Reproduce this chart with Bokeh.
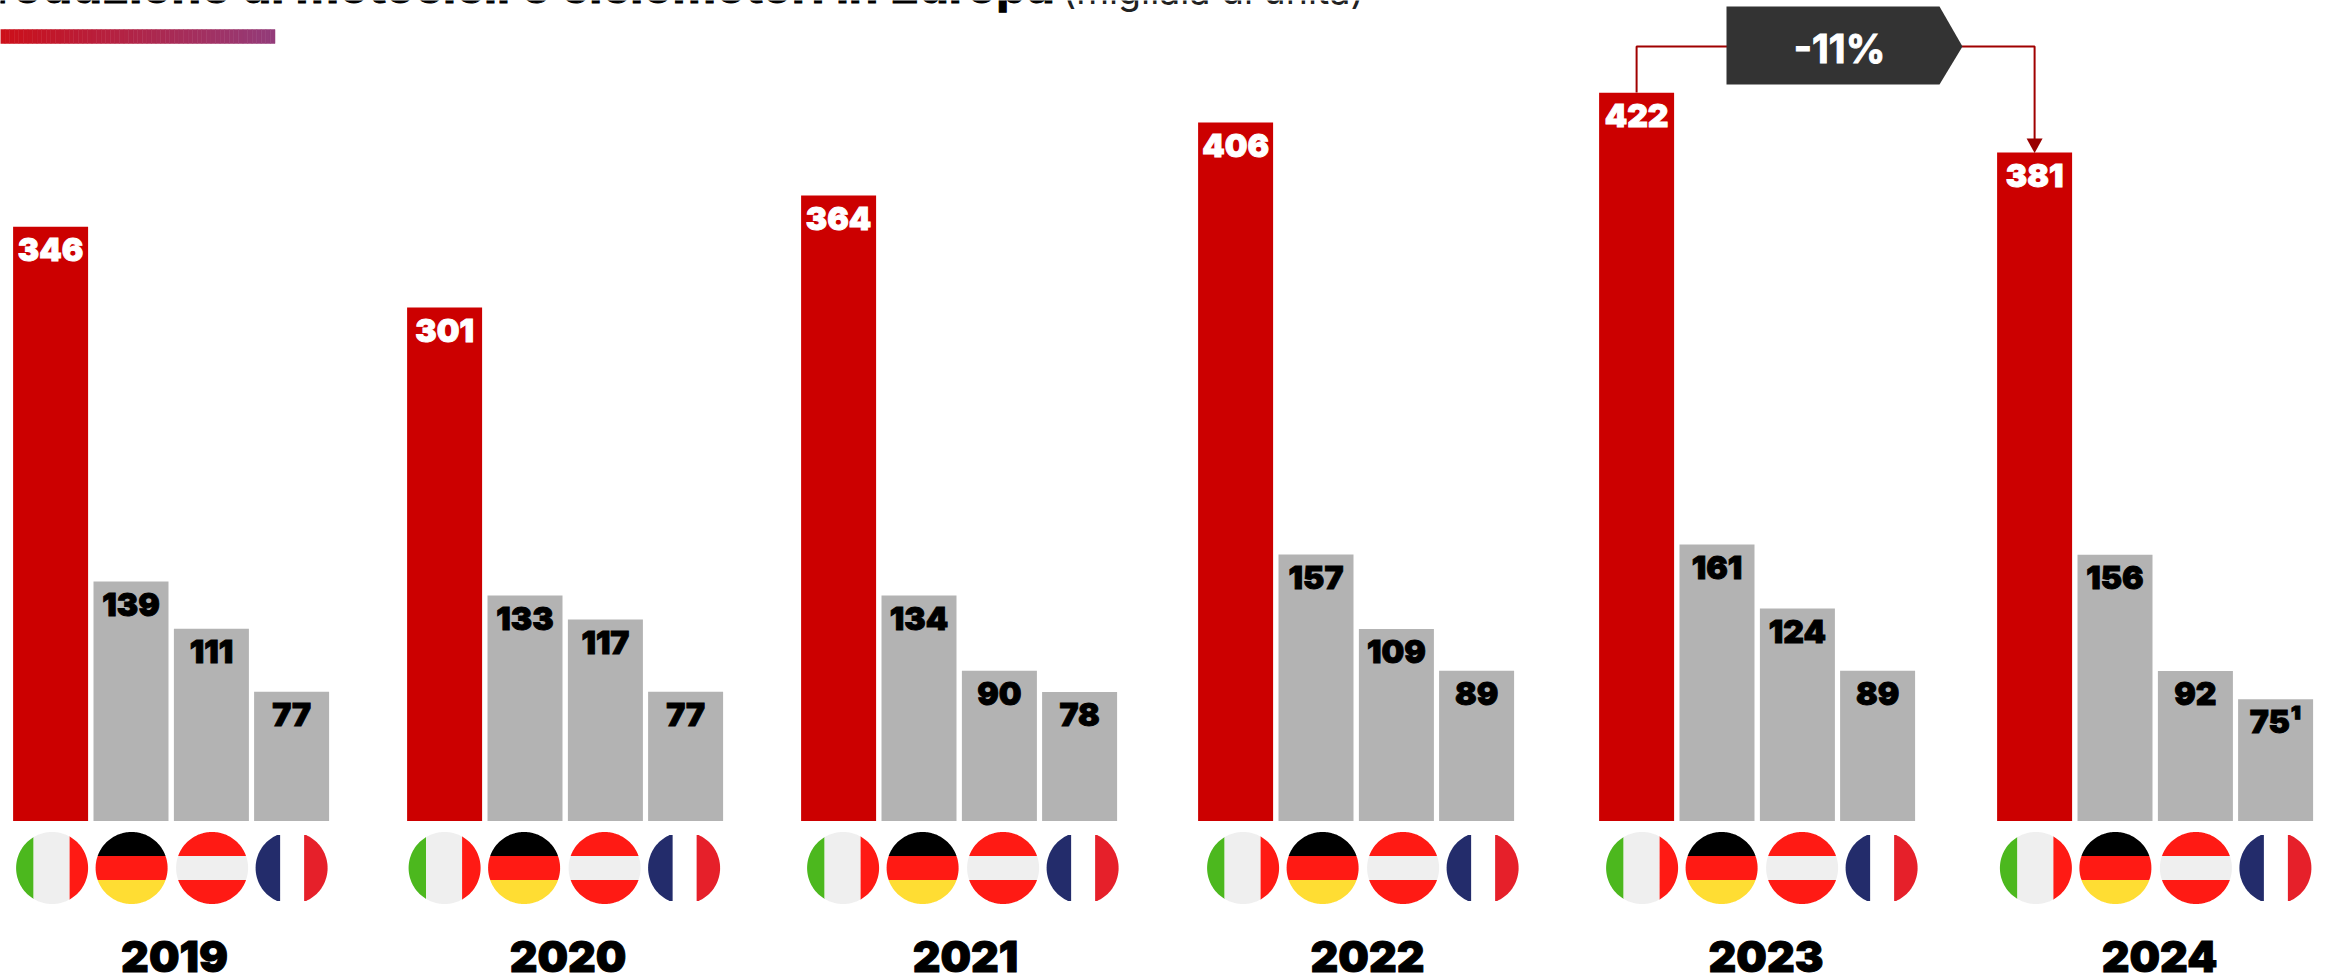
import numpy as np
from bokeh.plotting import figure
from bokeh.embed import file_html
from bokeh.resources import INLINE
from bokeh.core.properties import value
from bokeh.models import Range1d

years = ["2019", "2020", "2021", "2022", "2023", "2024"]
countries = ["Italia", "Germania", "Austria", "Francia"]
value_labels = [
    ["346", "139", "111", "77"],
    ["301", "133", "117", "77"],
    ["364", "134", "90", "78"],
    ["406", "157", "109", "89"],
    ["422", "161", "124", "89"],
    ["381", "156", "92", "75\u00b9"],
]
bar_heights = [
    [344.3, 138.8, 111.4, 74.9],
    [297.5, 130.6, 116.7, 74.9],
    [362.4, 130.6, 87.0, 74.8],
    [404.7, 154.4, 111.2, 87.0],
    [422.0, 160.2, 123.1, 87.0],
    [387.3, 154.2, 86.9, 70.6],
]
title_bold = "Produzione di motocicli e ciclomotori in Europa"
title_light = "(migliaia di unit\u00e0)"
change_label = "-11%"

W, H = 2325, 977
BASE = 820.5
K = 1.726
FONT_BLACK = value("Inter Black")
FONT = value("Inter")
SHIFT = 0.38  # text sits this share of its size below the given baseline

group_x = [12.6, 406.6, 800.6, 1197.6, 1598.6, 1996.6]
bar_off = [0, 80.4, 160.8, 241]
bar_w = 75
flag_x = [51.6, 444.1, 842.6, 1242.6, 1641.6, 2035.4]
flag_off = [0, 79.5, 160, 239.5]
year_x = [174, 567.5, 965, 1367, 1765.5, 2159]
R = 36
CY = 867.5

p = figure(width=W, height=H, output_backend="svg", toolbar_location=None,
           x_range=Range1d(0, W), y_range=Range1d((BASE - H) / K, BASE / K),
           min_border=0, outline_line_color=None, x_axis_type=None, y_axis_type=None)
p.grid.visible = False
p.extra_y_ranges = {"px": Range1d(H, 0)}

# gradient rule
n = 60
edges = np.linspace(0, 274.5, n + 1)
c0, c1 = np.array([204, 16, 26]), np.array([148, 60, 122])
cols = ["#%02x%02x%02x" % tuple(int(v) for v in c0 + (c1 - c0) * i / (n - 1)) for i in range(n)]
p.quad(left=edges[:-1], right=edges[1:], top=29, bottom=43, fill_color=cols, line_color=cols, line_width=0.5, y_range_name="px")

# title (cut by the page edge as in the reference)
p.text([-37], [4 - SHIFT * 47.8], [title_bold], text_font=FONT, text_font_style="bold", text_font_size="47.8px",
       text_color="#000000", text_outline_color="#000000", text_baseline="alphabetic", y_range_name="px")
p.text([1062], [4 - SHIFT * 37.5], [title_light], text_font=FONT, text_font_size="37.5px", text_color="#222222",
       text_baseline="alphabetic", y_range_name="px")

# bars
xs, tops, colors, lx, ly, lt, lc = [], [], [], [], [], [], []
for g, gx in enumerate(group_x):
    for i, off in enumerate(bar_off):
        cx = gx + off + bar_w / 2
        h = bar_heights[g][i]
        xs.append(cx); tops.append(h)
        colors.append("#cc0000" if i == 0 else "#b3b3b3")
        lx.append(cx); ly.append(BASE - h * K + 35 - SHIFT * 32)
        lt.append(value_labels[g][i]); lc.append("#ffffff" if i == 0 else "#000000")
p.vbar(x=xs, top=tops, bottom=0, width=bar_w, fill_color=colors, line_color=None)
p.text(lx, ly, lt, text_color=lc, text_outline_color=lc, text_font=FONT_BLACK, text_font_size="32px",
       text_align="center", text_baseline="alphabetic", y_range_name="px")


def stripe(cx, cy, x0=-R, x1=R, y0=-R, y1=R, r=R):
    """Polygon of a disc clipped to a box, in page pixels."""
    t = np.linspace(0, 2 * np.pi, 181)
    px, py = cx + r * np.cos(t), cy + r * np.sin(t)
    px = np.clip(px, cx + x0, cx + x1)
    py = np.clip(py, cy + y0, cy + y1)
    return px, py


FX, FY, FC = [], [], []
def add(poly, col):
    FX.append(list(poly[0])); FY.append(list(poly[1])); FC.append(col)

for fx in flag_x:
    c = fx + flag_off[0]
    add(stripe(c, CY, -R, -18.5), "#4cb81e")
    add(stripe(c, CY, -18.5, 17.5), "#efefef")
    add(stripe(c, CY, 17.5, R), "#ff1a14")
    c = fx + flag_off[1]
    add(stripe(c, CY, y0=-R, y1=-12), "#000000")
    add(stripe(c, CY, y0=-12, y1=12), "#ff1a14")
    add(stripe(c, CY, y0=12, y1=R), "#ffdd33")
    c = fx + flag_off[2]
    add(stripe(c, CY, y0=-R, y1=-12), "#ff1a14")
    add(stripe(c, CY, y0=-12, y1=12), "#efefef")
    add(stripe(c, CY, y0=12, y1=R), "#ff1a14")
    c = fx + flag_off[3]
    add(stripe(c, CY, -R, -11.5, -33, 33), "#232c6b")
    add(stripe(c, CY, 12.5, R, -33, 33), "#e6202a")
p.patches(FX, FY, fill_color=FC, line_color=None, y_range_name="px")

# years
p.text(year_x, [972.5 - SHIFT * 43] * 6, years, text_font=FONT_BLACK, text_outline_color="#000000", text_font_size="43px",
       text_color="#000000", text_align="center", text_baseline="alphabetic", y_range_name="px")

# change connector
bx0 = group_x[4] + bar_w / 2
bx1 = group_x[5] + bar_w / 2
p.line([bx0, bx0, 1727], [92, 46, 46], line_color="#a00000", line_width=2, y_range_name="px")
p.line([1961, bx1, bx1], [46, 46, 140], line_color="#a00000", line_width=2, y_range_name="px")
p.patch([bx1 - 8, bx1 + 8, bx1], [138, 138, 152.5], fill_color="#990000", line_color=None, y_range_name="px")
p.patch([1726, 1939, 1962, 1939, 1726], [6, 6, 46, 84, 84], fill_color="#333333", line_color=None, y_range_name="px")
p.text([1839], [63 - SHIFT * 39], [change_label], text_font=FONT, text_font_style="bold", text_font_size="39px",
       text_color="#ffffff", text_outline_color="#ffffff", text_align="center", text_baseline="alphabetic", y_range_name="px")

open("out.html", "w").write(file_html(p, INLINE))
